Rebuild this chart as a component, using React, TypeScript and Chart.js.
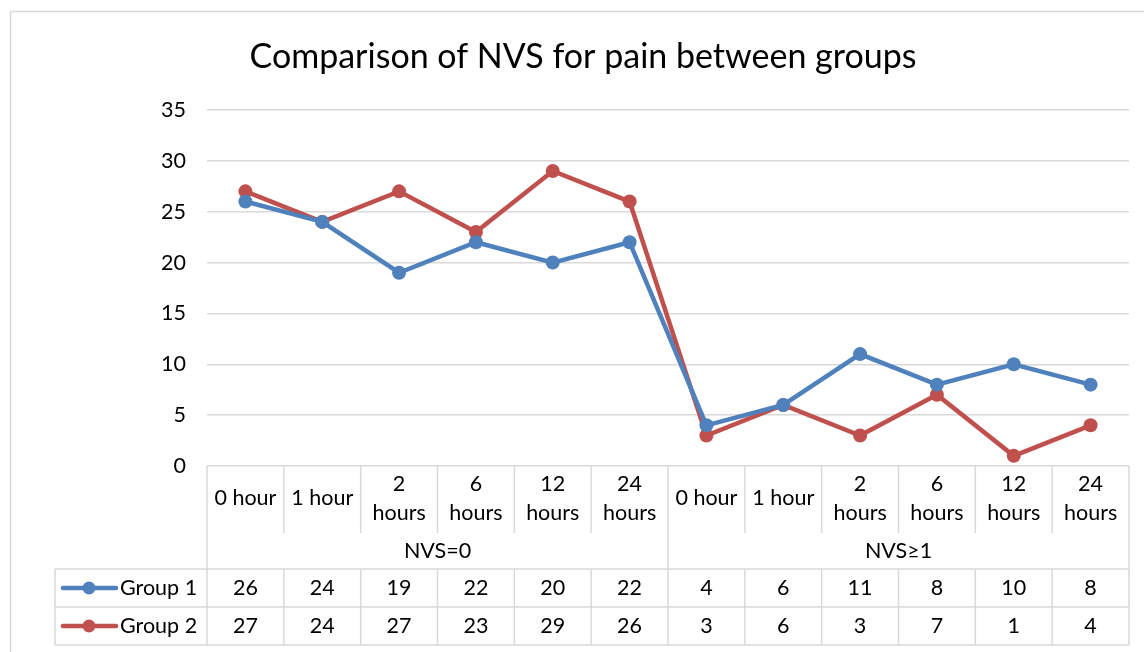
import React, { useEffect, useRef } from "react";
import { Chart, registerables } from "chart.js";

Chart.register(...registerables);

const chartTitle = "Comparison of NVS for pain between groups";
const groupLabels = ["NVS=0", "NVS≥1"];
const hourLabels: string[][] = [
  ["0 hour"],
  ["1 hour"],
  ["2", "hours"],
  ["6", "hours"],
  ["12", "hours"],
  ["24", "hours"],
];
const seriesNames = ["Group 1", "Group 2"];
const group1Values = [26, 24, 19, 22, 20, 22, 4, 6, 11, 8, 10, 8];
const group2Values = [27, 24, 27, 23, 29, 26, 3, 6, 3, 7, 1, 4];
const yTicks = [0, 5, 10, 15, 20, 25, 30, 35];

const BLUE = "#4f81bd";
const RED = "#c0504d";
const GRID = "#d9d9d9";
const FONT = "Lato, 'Open Sans', sans-serif";
const FS = 21.5;

export default function App() {
  const ref = useRef<HTMLCanvasElement | null>(null);

  useEffect(() => {
    document.body.style.margin = "0";
    const canvas = ref.current;
    if (!canvas) return;
    const labels: string[] = [];
    groupLabels.forEach((g) => hourLabels.forEach((h) => labels.push(g + " " + h.join(" "))));
    const seriesValues = [group1Values, group2Values];
    const colors = [BLUE, RED];

    const tablePlugin = {
      id: "tablePlugin",
      beforeDraw(chart: any) {
        const ctx = chart.ctx;
        ctx.save();
        ctx.fillStyle = "#ffffff";
        ctx.fillRect(0, 0, chart.width, chart.height);
        ctx.strokeStyle = GRID;
        ctx.lineWidth = 1.5;
        ctx.strokeRect(10.5, 11.5, chart.width + 20, chart.height + 20);
        ctx.restore();
      },
      afterDraw(chart: any) {
        const ctx = chart.ctx;
        const area = chart.chartArea;
        const xs = chart.scales.x;
        const n = labels.length;
        const colW = (area.right - area.left) / n;
        const top = area.bottom;
        const headBottom = top + 67;
        const grpBottom = top + 103;
        const row1Bottom = grpBottom + 38;
        const row2Bottom = row1Bottom + 38;
        const legendLeft = 55;

        ctx.save();
        // title
        ctx.fillStyle = "#000";
        ctx.font = `34px ${FONT}`;
        ctx.textAlign = "center";
        ctx.textBaseline = "middle";
        ctx.fillText(chartTitle, 583, 57);

        ctx.strokeStyle = GRID;
        ctx.lineWidth = 1.5;
        const line = (x1: number, y1: number, x2: number, y2: number) => {
          ctx.beginPath();
          ctx.moveTo(x1, y1);
          ctx.lineTo(x2, y2);
          ctx.stroke();
        };
        // verticals
        for (let i = 0; i <= n; i++) {
          const x = area.left + i * colW;
          if (i === 0 || i === n || i === hourLabels.length) {
            line(x, top, x, row2Bottom);
          } else {
            line(x, top, x, headBottom);
            line(x, grpBottom, x, row2Bottom);
          }
        }
        line(legendLeft, grpBottom, legendLeft, row2Bottom);
        // horizontals
        line(legendLeft, grpBottom, area.right, grpBottom);
        line(legendLeft, row1Bottom, area.right, row1Bottom);
        line(legendLeft, row2Bottom, area.right, row2Bottom);

        // header text
        ctx.fillStyle = "#000";
        ctx.font = `${FS}px ${FONT}`;
        ctx.textAlign = "center";
        ctx.textBaseline = "middle";
        for (let i = 0; i < n; i++) {
          const cx = xs.getPixelForValue(i);
          const lines = hourLabels[i % hourLabels.length];
          if (lines.length === 1) {
            ctx.fillText(lines[0], cx, top + 32);
          } else {
            lines.forEach((t, k) => ctx.fillText(t, cx, top + 18 + k * 29));
          }
        }
        groupLabels.forEach((g, gi) => {
          const x0 = xs.getPixelForValue(gi * hourLabels.length);
          const x1 = xs.getPixelForValue((gi + 1) * hourLabels.length - 1);
          ctx.fillText(g, (x0 + x1) / 2, top + 85);
        });
        // data rows
        seriesValues.forEach((vals, si) => {
          const cy = grpBottom + 19 + si * 38;
          vals.forEach((v, i) => ctx.fillText(String(v), xs.getPixelForValue(i), cy));
          // legend
          ctx.strokeStyle = colors[si];
          ctx.lineWidth = 4.5;
          ctx.lineCap = "round";
          line(63, cy, 116, cy);
          ctx.fillStyle = colors[si];
          ctx.beginPath();
          ctx.arc(89, cy, 6.5, 0, Math.PI * 2);
          ctx.fill();
          ctx.fillStyle = "#000";
          ctx.textAlign = "left";
          ctx.fillText(seriesNames[si], 120, cy);
          ctx.textAlign = "center";
        });
        ctx.restore();
      },
    };

    const chart = new Chart(canvas, {
      type: "line",
      data: {
        labels,
        datasets: seriesValues.map((vals, si) => ({
          label: seriesNames[si],
          data: vals,
          borderColor: colors[si],
          backgroundColor: colors[si],
          borderWidth: 4.5,
          pointRadius: 7,
          pointBackgroundColor: colors[si],
          pointBorderColor: colors[si],
          pointBorderWidth: 0,
          tension: 0,
        })),
      },
      options: {
        responsive: false,
        animation: false,
        events: [],
        layout: { padding: { top: 110, right: 15, bottom: 186, left: 0 } },
        plugins: {
          legend: { display: false },
          title: { display: false },
          tooltip: { enabled: false },
        },
        scales: {
          x: {
            type: "category",
            offset: true,
            display: false,
          },
          y: {
            min: 0,
            max: 35,
            afterFit: (scale: any) => {
              scale.width = 207;
            },
            afterBuildTicks: (scale: any) => {
              scale.ticks = yTicks.map((v) => ({ value: v }));
            },
            border: { display: false },
            grid: { color: GRID, lineWidth: 1.5, drawTicks: false },
            ticks: {
              color: "#000",
              padding: 21,
              font: { family: FONT, size: FS },
            },
          },
        },
      },
      plugins: [tablePlugin],
    });
    return () => chart.destroy();
  }, []);

  return (
    <div style={{ position: "fixed", left: 0, top: 0, width: 1144, height: 652 }}>
      <canvas ref={ref} width={1144} height={652} style={{ width: 1144, height: 652 }} />
    </div>
  );
}
